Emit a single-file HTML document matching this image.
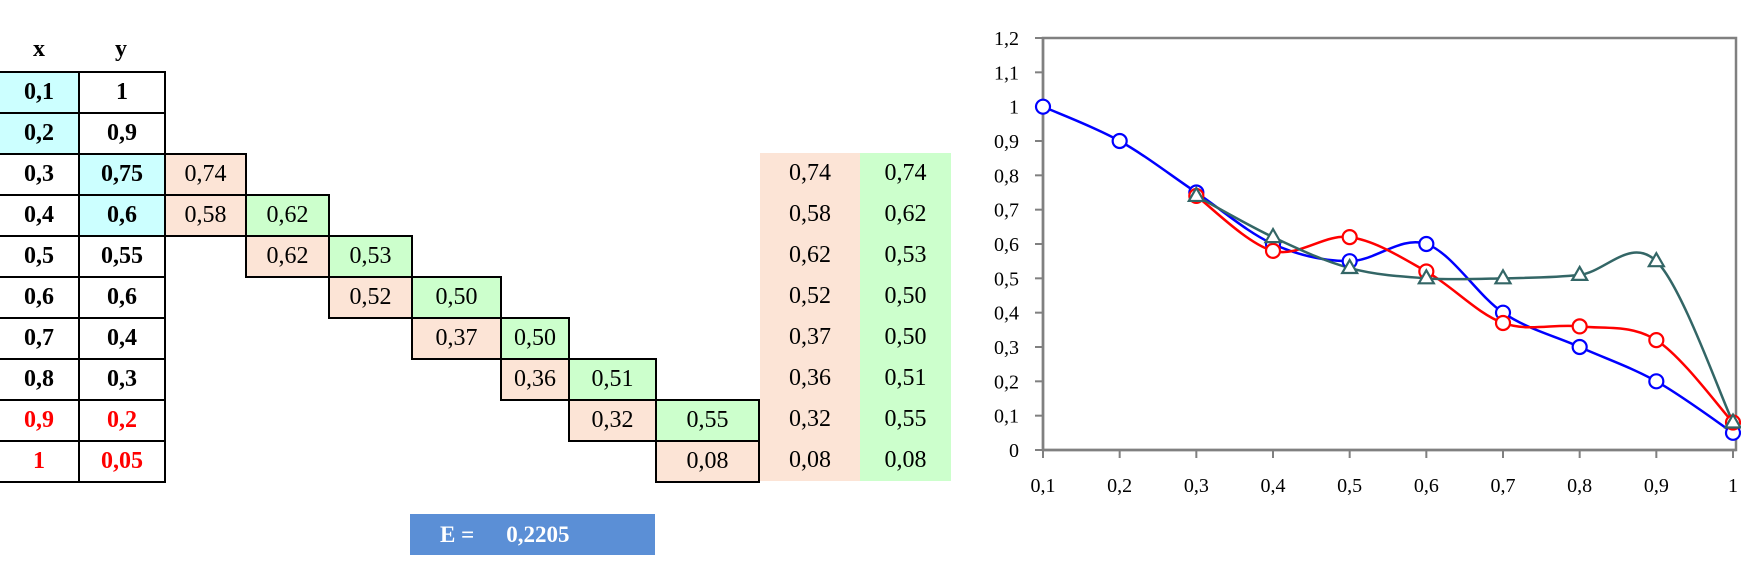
<!DOCTYPE html>
<html><head><meta charset="utf-8"><style>
body{margin:0;width:1741px;height:579px;background:#fff;position:relative;overflow:hidden;font-family:"Liberation Serif",serif}
.c{position:absolute;box-sizing:border-box;text-align:center;font-size:24px;line-height:39px;height:43px}
.b{border:2px solid #000}
.h{position:absolute;font-weight:bold;font-size:24px;text-align:center;width:78px}
</style></head><body>
<div class="h" style="left:0;top:36px">x</div>
<div class="h" style="left:78px;top:36px;width:86px">y</div>
<div id="tbl"></div>
<div style="position:absolute;left:410px;top:514px;width:245px;height:41px;background:#5B8FD6;color:#fff;font-weight:bold;font-size:23px;line-height:41px"><span style="margin-left:30px">E =</span><span style="margin-left:32px">0,2205</span></div>
<svg id="ch" width="1741" height="579" style="position:absolute;left:0;top:0"></svg>
<script>
const xs=["0,1","0,2","0,3","0,4","0,5","0,6","0,7","0,8","0,9","1"];
const ys=["1","0,9","0,75","0,6","0,55","0,6","0,4","0,3","0,2","0,05"];
const orangeVals=["0,74","0,58","0,62","0,52","0,37","0,36","0,32","0,08"];
const greenVals=["0,74","0,62","0,53","0,50","0,50","0,51","0,55","0,08"];
const xVals=[0.1,0.2,0.3,0.4,0.5,0.6,0.7,0.8,0.9,1];
const blueY=[1,0.9,0.75,0.6,0.55,0.6,0.4,0.3,0.2,0.05];
const redY=[0.74,0.58,0.62,0.52,0.37,0.36,0.32,0.08];
const greenY=[0.74,0.62,0.53,0.50,0.50,0.51,0.55,0.08];
const yTicks=[0,0.1,0.2,0.3,0.4,0.5,0.6,0.7,0.8,0.9,1,1.1,1.2];

const T=document.getElementById('tbl');
const colX=[0,78,164,245,328,411,500,568,655,758];
function cell(l,t,w,txt,bg,cls,extra,name){
  const d=document.createElement('div');
  d.className='c '+cls;
  d.style.cssText=`left:${l}px;top:${t}px;width:${w}px;background:${bg};${extra||''}`;
  d.textContent=txt;
  
  
  T.appendChild(d);
}
for(let i=0;i<10;i++){
  const t=71+i*41;
  const red=i>=8?'color:#f00;':'';
  cell(-2,t,82,xs[i],i<2?'#CCFFFF':'#fff','b','font-weight:bold;'+red,'x-cell');
  cell(78,t,88,ys[i],(i==2||i==3)?'#CCFFFF':'#fff','b','font-weight:bold;'+red,'y-cell');
  if(i>=2){
    const k=i-2;
    const c=i==2?2:i-1;
    cell(760,t,100,orangeVals[k],'#FCE4D6','','height:41px;line-height:41px','orange-summary-cell');
    cell(860,t,91,greenVals[k],'#CCFFCC','','height:41px;line-height:41px','green-summary-cell');
    cell(colX[c],t,colX[c+1]-colX[c]+2,orangeVals[k],'#FCE4D6','b','','orange-cell');
    if(i>2&&i<9) cell(colX[c+1],t,colX[c+2]-colX[c+1]+2,greenVals[k],'#CCFFCC','b','','green-cell');
  }
}
const S=document.getElementById('ch'),NS='http://www.w3.org/2000/svg';
const X0=1043,X1=1733,Y0=450,Y1=38;
const sx=v=>X0+(v-0.1)/0.9*(X1-X0), sy=v=>Y0-v/1.2*(Y0-Y1);
function el(tag,a,name){const e=document.createElementNS(NS,tag);for(const k in a)e.setAttribute(k,a[k]);
  
  
  S.appendChild(e);return e;}
el('rect',{x:X0,y:Y1,width:X1+3-X0,height:Y0-Y1,fill:'none',stroke:'#808080','stroke-width':2.5},'plot-frame');
el('line',{x1:X0,y1:Y1,x2:X0,y2:Y0,stroke:'#808080','stroke-width':2.5},'y-axis');
el('line',{x1:X0,y1:Y0,x2:X1+3,y2:Y0,stroke:'#808080','stroke-width':2.5},'x-axis');
yTicks.forEach(v=>{el('line',{x1:X0-8,y1:sy(v),x2:X0,y2:sy(v),stroke:'#808080','stroke-width':2},'y-tick');
  const t=el('text',{x:1019,y:sy(v)+7,'text-anchor':'end','font-size':20,'font-family':'Liberation Serif'},'y-tick-label');
  t.textContent=String(Math.round(v*10)/10).replace('.',',');});
xVals.forEach((v,i)=>{el('line',{x1:sx(v),y1:Y0,x2:sx(v),y2:Y0+8,stroke:'#808080','stroke-width':2},'x-tick');
  const t=el('text',{x:sx(v),y:492,'text-anchor':'middle','font-size':20,'font-family':'Liberation Serif'},'x-tick-label');
  t.textContent=xs[i];});
function path(xv,yv){const p=xv.map((x,i)=>[sx(x),sy(yv[i])]);let d=`M${p[0][0]},${p[0][1]}`;
  for(let i=0;i<p.length-1;i++){const a=p[Math.max(0,i-1)],b=p[i],c=p[i+1],e=p[Math.min(p.length-1,i+2)];
    d+=` C${b[0]+(c[0]-a[0])/6},${b[1]+(c[1]-a[1])/6} ${c[0]-(e[0]-b[0])/6},${c[1]-(e[1]-b[1])/6} ${c[0]},${c[1]}`;}return d;}
const xs2=xVals.slice(2);
el('path',{d:path(xVals,blueY),fill:'none',stroke:'#0000ff','stroke-width':2.5},'blue-series-line');
el('path',{d:path(xs2,redY),fill:'none',stroke:'#ff0000','stroke-width':2.5},'red-series-line');
el('path',{d:path(xs2,greenY),fill:'none',stroke:'#336666','stroke-width':2.5},'green-series-line');
xVals.forEach((x,i)=>el('circle',{cx:sx(x),cy:sy(blueY[i]),r:7,fill:'#fff',stroke:'#0000ff','stroke-width':2.2},'blue-point'));
xs2.forEach((x,i)=>el('circle',{cx:sx(x),cy:sy(redY[i]),r:7,fill:'#fff',stroke:'#ff0000','stroke-width':2.2},'red-point'));
xs2.forEach((x,i)=>{const cx=sx(x),cy=sy(greenY[i]);el('polygon',{points:`${cx},${cy-8} ${cx-7.5},${cy+5} ${cx+7.5},${cy+5}`,fill:'#fff',stroke:'#336666','stroke-width':2.2},'green-point');});
</script>
</body></html>
